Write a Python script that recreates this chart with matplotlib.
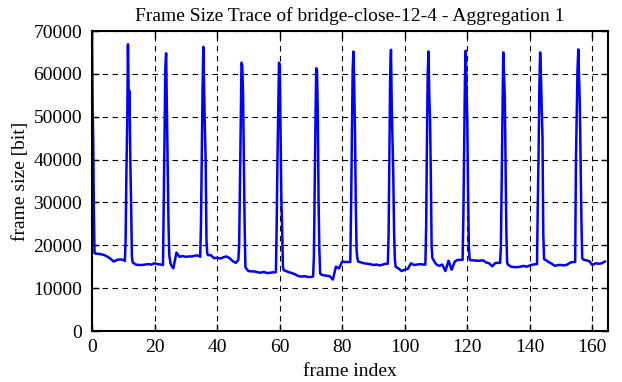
import numpy as np
import matplotlib
matplotlib.use('Agg')
import matplotlib.pyplot as plt

plt.rcParams['font.family'] = ['Liberation Serif', 'DejaVu Serif']

# baseline (P/B frame) sizes per frame index, bit
baseline = [
    69500, 18100, 18000, 17900, 17700, 17300, 16800, 16200, 16600, 16700,
    16600, 16500, 16400, 16000, 15500, 15400, 15400, 15500, 15600, 15500,
    15800, 15600, 15500, 15400, 15400, 15000, 14600, 18300, 17300, 17500,
    17300, 17400, 17400, 17600, 17600, 17300, 17300, 17500, 17700, 17000,
    17100, 16900, 17200, 17400, 17000, 16300, 15900, 16600, 15000, 14600,
    14000, 13900, 13900, 13700, 13600, 13800, 13500, 13600, 13700, 13700,
    14000, 14200, 14000, 13700, 13500, 13200, 12800, 12700, 12800, 12600,
    12600, 12700, 13000, 13200, 13000, 12900, 12800, 12000, 15000, 14600,
    16200, 16100, 16100, 16100, 16500, 16200, 16000, 15800, 15700, 15600,
    15400, 15500, 15300, 15500, 15700, 15700, 15000, 15000, 14600, 14000,
    14300, 14500, 15800, 15400, 15500, 15600, 15500, 15500, 16700, 16700,
    15600, 15200, 15500, 14000, 16400, 14300, 16200, 16600, 16600, 16600,
    16500, 16500, 16500, 16400, 16400, 16500, 16000, 15800, 15100, 15900,
    15900, 15900, 15500, 15500, 15000, 14900, 14900, 15000, 15200, 15000,
    15300, 15500, 15600, 15600, 16600, 16600, 16100, 15700, 15200, 15400,
    15400, 15300, 15500, 16000, 16100, 16100, 16700, 16700, 16500, 16300,
    15400, 15800, 15700, 15800, 16200,
]

# first I-frame
first_x = [0, 0.2, 0.4, 0.6, 0.8]
first_y = [69500, 52000, 44000, 28000, 18200]

# I-frame peaks
spike_pos = [11.5, 23.7, 35.6, 47.8, 59.8, 71.7, 83.6, 95.6, 107.6, 119.5, 131.5, 143.3, 155.5]
spike_offsets = [-1.0, -0.75, -0.5, -0.25, 0, 0.25, 0.5, 0.75, 1.0, 1.25, 1.5]
spike_vals = [
    [16300, 21000, 37000, 48000, 66900, 53500, 56000, 40000, 30000, 17500, 16000],
    [15400, 30000, 45700, 61300, 64800, 52000, 38700, 25500, 17700, 16500, 15500],
    [17300, 25000, 40700, 56300, 66300, 57000, 47000, 39800, 21300, 18100, 17700],
    [16600, 20000, 33000, 47700, 62600, 62000, 55500, 39800, 25000, 15000, 14600],
    [13700, 24300, 39800, 52000, 62600, 61800, 46200, 30600, 24000, 15000, 14200],
    [12700, 17300, 33000, 48500, 61300, 60900, 50800, 30600, 18900, 13500, 13200],
    [16100, 29000, 45300, 60900, 65200, 57000, 46200, 29800, 18900, 17000, 16200],
    [15700, 22800, 41400, 60100, 65600, 52400, 44000, 36000, 22800, 16600, 15000],
    [15500, 24300, 43700, 60100, 65200, 55000, 49300, 36000, 19700, 17000, 16700],
    [16600, 26600, 42900, 58500, 65400, 57000, 49300, 33000, 19700, 16800, 16500],
    [15900, 19700, 35200, 51600, 65000, 60000, 54700, 39800, 22800, 16000, 15500],
    [15600, 29800, 41400, 57000, 65000, 60100, 52000, 45300, 22800, 16800, 16600],
    [16100, 39800, 50800, 61000, 65700, 59000, 52400, 39000, 25800, 17000, 16700],
]

# merge baseline and spikes into one trace
pts = list(zip(first_x, first_y))
for f, v in enumerate(baseline):
    if f <= first_x[-1]:
        continue
    if any(p + spike_offsets[0] <= f <= p + spike_offsets[-1] for p in spike_pos):
        continue
    pts.append((f, v))
for p, vals in zip(spike_pos, spike_vals):
    for o, v in zip(spike_offsets, vals):
        pts.append((p + o, v))
pts.sort()
x = np.array([q[0] for q in pts])
y = np.array([q[1] for q in pts])

fig = plt.figure(figsize=(6.22, 3.82), dpi=100)
ax = fig.add_axes([92/622, 1-331/382, 516/622, 300/382])
ax.plot(x, y, color='#0000ff', lw=1.8)

ax.set_xlim(0, 165)
ax.set_ylim(0, 70000)
ax.set_xticks(np.arange(0, 161, 20))
ax.set_yticks(np.arange(0, 70001, 10000))
ax.grid(True, color='black', linestyle=(0, (5, 4)), linewidth=0.8)
ax.tick_params(direction='in', top=True, right=True, length=5, width=1, labelsize=14)
ax.tick_params(axis='y', pad=7)
ax.tick_params(axis='x', pad=6)
for s in ax.spines.values():
    s.set_linewidth(1.5)

ax.set_xlabel('frame index', fontsize=14, labelpad=5)
ax.set_ylabel('frame size [bit]', fontsize=14, labelpad=3)
ax.set_title('Frame Size Trace of bridge-close-12-4 - Aggregation 1', fontsize=14, pad=7)

fig.savefig('out.png', dpi=100)
